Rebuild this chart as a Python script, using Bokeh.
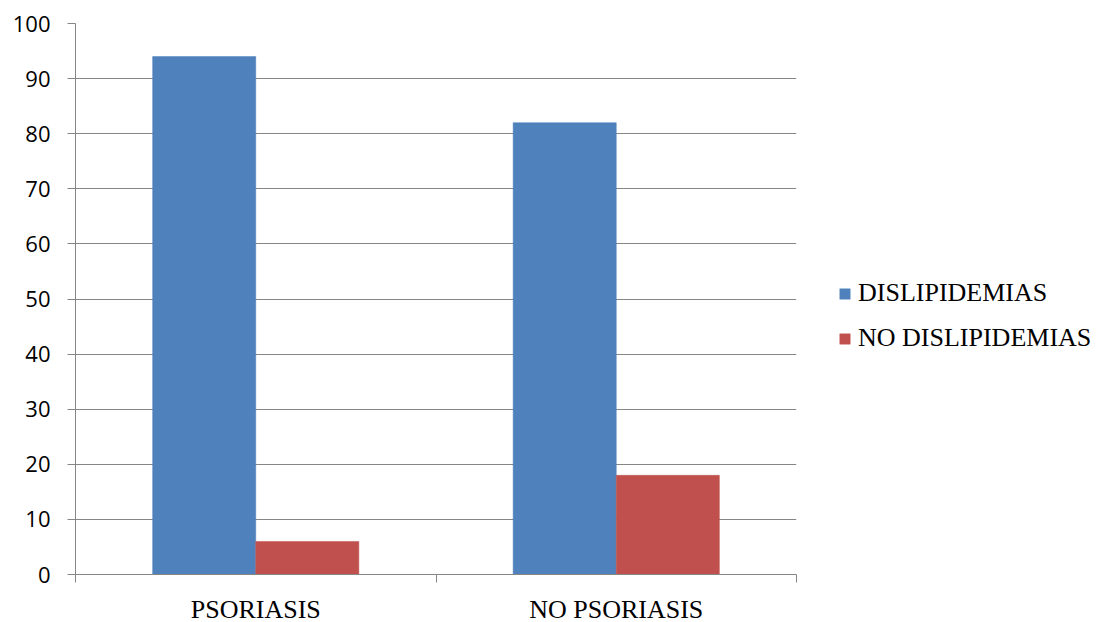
from bokeh.plotting import figure
from bokeh.models import Range1d, FixedTicker, Legend, LegendItem, ColumnDataSource
from bokeh.embed import file_html
from bokeh.resources import INLINE

categories = ["PSORIASIS", "NO PSORIASIS"]
dislipidemias = [94, 82]
no_dislipidemias = [6, 18]
series_names = ["DISLIPIDEMIAS", "NO DISLIPIDEMIAS"]
colors = ["#4F81BD", "#C0504D"]
y_ticks = list(range(0, 101, 10))

GRAY = "#868686"
bar_w = 0.286

p = figure(frame_width=721, frame_height=551, output_backend="svg", toolbar_location=None,
           x_range=Range1d(0, len(categories)), y_range=Range1d(0, 100),
           min_border_left=75, min_border_right=300, min_border_top=23, min_border_bottom=45)
p.outline_line_color = None
p.background_fill_color = "white"
p.border_fill_color = "white"

centers = [i + 0.5 for i in range(len(categories))]
src = ColumnDataSource(dict(
    x1=[c - bar_w / 2 for c in centers],
    x2=[c + bar_w / 2 for c in centers],
    d=dislipidemias, n=no_dislipidemias))

r1 = p.vbar(x="x1", top="d", width=bar_w, bottom=0, source=src,
            fill_color=colors[0], line_color=colors[0], line_width=0.5)
r2 = p.vbar(x="x2", top="n", width=bar_w, bottom=0, source=src,
            fill_color=colors[1], line_color=colors[1], line_width=0.5)

# X axis
p.xaxis.ticker = FixedTicker(ticks=centers, minor_ticks=list(range(len(categories) + 1)))
p.xaxis.major_label_overrides = {c: cat for c, cat in zip(centers, categories)}
p.xaxis.major_tick_out = 0
p.xaxis.major_tick_in = 0
p.xaxis.minor_tick_out = 8
p.xaxis.minor_tick_in = 0
p.xaxis.minor_tick_line_color = GRAY
p.xaxis.axis_line_color = GRAY
p.xaxis.major_label_text_font = "Liberation Serif"
p.xaxis.major_label_text_font_size = "26px"
p.xaxis.major_label_text_color = "black"
p.xaxis.major_label_standoff = 12
p.xgrid.visible = False

# Y axis
p.yaxis.ticker = FixedTicker(ticks=y_ticks)
p.yaxis.major_tick_out = 8
p.yaxis.major_tick_in = 0
p.yaxis.minor_tick_line_color = None
p.yaxis.major_tick_line_color = GRAY
p.yaxis.axis_line_color = GRAY
p.yaxis.major_label_text_font = "Open Sans"
p.yaxis.major_label_text_font_size = "22px"
p.yaxis.major_label_text_color = "black"
p.yaxis.major_label_standoff = 17
p.ygrid.grid_line_color = GRAY
p.ygrid.grid_line_width = 1

legend = Legend(items=[LegendItem(label=series_names[0], renderers=[r1]),
                       LegendItem(label=series_names[1], renderers=[r2])],
                location=(42, 221), orientation="vertical")
legend.border_line_color = None
legend.background_fill_alpha = 0
legend.padding = 0
legend.margin = 0
legend.spacing = 15
legend.glyph_width = 13
legend.glyph_height = 13
legend.label_standoff = 7
legend.label_text_font = "Liberation Serif"
legend.label_text_font_size = "26px"
legend.label_text_color = "black"
p.add_layout(legend, "right")

open("out.html", "w").write(file_html(p, INLINE))
